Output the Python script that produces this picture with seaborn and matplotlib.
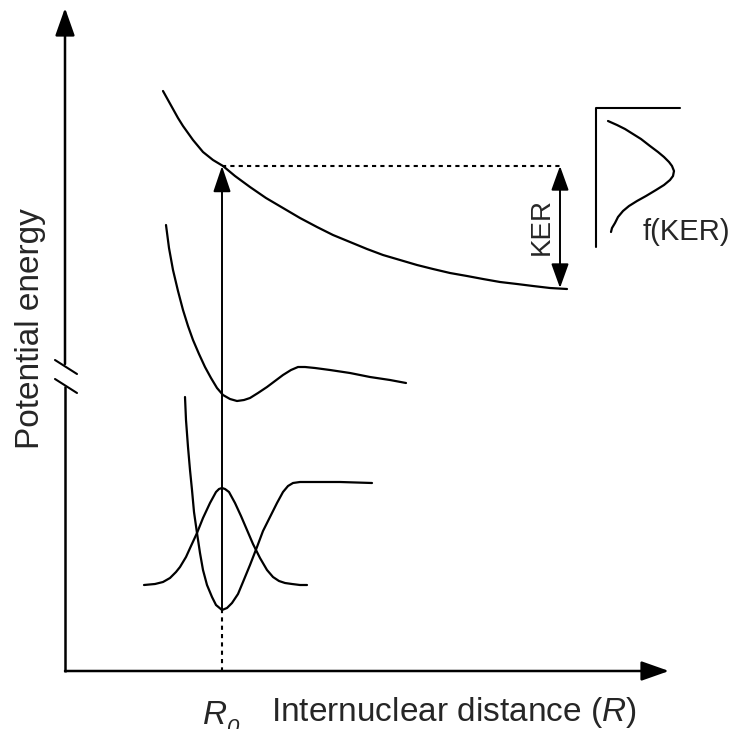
import matplotlib
matplotlib.use("Agg")
import matplotlib.pyplot as plt
import numpy as np
import pandas as pd
import seaborn as sns

sns.set_theme(style="white")
plt.rcParams["font.family"] = ["Liberation Sans", "DejaVu Sans"]
plt.rcParams["mathtext.fontset"] = "custom"
plt.rcParams["mathtext.rm"] = "Liberation Sans"
plt.rcParams["mathtext.it"] = "Liberation Sans:italic"

# Schematic potential-energy curves (x = internuclear distance, y = energy,
# both in drawing units, y grows downwards)
repulsive_x = [163, 168, 173, 178, 183, 188, 193, 198, 203, 208, 213, 218, 223, 235, 250,
               266, 283, 300, 317, 333, 350, 367, 383, 400, 417, 433, 450, 467, 483, 500,
               517, 533, 550, 567]
repulsive_y = [91, 100, 109, 118, 126, 133, 140, 146, 152, 156, 160, 163, 166, 176, 187,
               198, 208, 218, 227, 235, 242, 249, 255, 260, 265, 269, 273, 276, 279, 282,
               284, 286, 288, 289]

excited_x = [166, 169, 173, 178, 183, 188, 193, 199, 205, 211, 217, 223, 230, 237,
             244, 250, 258, 267, 275, 283, 291, 298, 305, 315, 330, 350, 370, 390, 406]
excited_y = [225, 248, 270, 291, 310, 326, 340, 354, 367, 378, 388, 395, 399, 401,
             400, 398, 393, 387, 381, 375, 370, 367, 367, 368, 370, 373, 377, 380, 383]

ground_x = [185, 186, 188, 190, 192, 194, 197, 200, 203, 207, 212, 216, 222, 227, 232,
            238, 243, 250, 257, 263, 270, 277, 283, 288, 293, 300, 313, 340, 372]
ground_y = [397, 420, 447, 470, 490, 512, 533, 553, 570, 585, 597, 605, 610, 608, 603,
            594, 582, 565, 547, 531, 517, 503, 492, 486, 483, 482, 482, 482, 483]

wave_x = [144, 155, 163, 170, 176, 180, 186, 191, 197, 203, 210, 216, 219, 222, 225,
          229, 235, 241, 247, 253, 260, 267, 273, 279, 285, 292, 300, 307]
wave_y = [585, 584, 582, 578, 572, 567, 557, 546, 533, 518, 503, 492, 489, 488, 489,
          492, 503, 516, 530, 544, 558, 570, 577, 581, 583, 584, 585, 585]

# Kinetic-energy-release distribution sketched next to the KER span
fker_x = [608, 617, 625, 633, 641, 650, 658, 664, 669, 672, 674, 673, 670, 664,
          656, 646, 637, 629, 623, 618, 615, 612, 611]
fker_y = [121, 125, 129, 134, 139, 146, 152, 157, 162, 166, 171, 176, 180, 185,
          190, 196, 201, 206, 211, 217, 223, 228, 232]

R0_x = 222
excite_top_y = 166
excite_bottom_y = 609
axis_origin = (65, 671)
axis_x_end = 669
axis_y_end = 8
ker_x = 560
ker_top_y = 166
ker_bottom_y = 288

fig = plt.figure(figsize=(7.33, 7.29), dpi=100)
ax = fig.add_axes([0, 0, 1, 1])
ax.set_xlim(0, 733)
ax.set_ylim(729, 0)
ax.axis("off")

curve_kw = dict(color="black", linewidth=1.6, sort=False, estimator=None, legend=False, ax=ax)
for xs, ys in [(repulsive_x, repulsive_y), (excited_x, excited_y),
               (ground_x, ground_y), (wave_x, wave_y), (fker_x, fker_y)]:
    df = pd.DataFrame({"R": xs, "E": ys})
    sns.lineplot(data=df, x="R", y="E", **curve_kw)
ax.set_xlabel("")
ax.set_ylabel("")

# Axes with arrowheads
x0, y0 = axis_origin
axis_kw = dict(arrowstyle="-|>,head_length=0.85,head_width=0.3",
               color="black", lw=1.8, mutation_scale=20, shrinkA=0, shrinkB=0)
ax.annotate("", xy=(axis_x_end, y0), xytext=(x0, y0), arrowprops=axis_kw)
# y-axis drawn in two pieces around the break marks
ax.plot([x0, x0], [y0 + 1, 386], color="black", lw=1.8, solid_capstyle="butt")
ax.annotate("", xy=(x0, axis_y_end), xytext=(x0, 364), arrowprops=axis_kw)
for yb in (367, 386):
    ax.plot([55, 77], [yb - 7, yb + 7], color="black", lw=1.5)

# Vertical excitation arrow at R0
arrow_kw = dict(arrowstyle="-|>,head_length=0.8,head_width=0.27",
                color="black", lw=1.4, mutation_scale=20, shrinkA=0, shrinkB=0)
ax.annotate("", xy=(R0_x, excite_top_y), xytext=(R0_x, excite_bottom_y), arrowprops=arrow_kw)
ax.plot([R0_x, R0_x], [excite_bottom_y, y0], color="black", lw=1.5,
        linestyle=(0, (2, 2)))

# Dotted level and KER double arrow
ax.plot([R0_x, ker_x + 3], [excite_top_y, excite_top_y], color="black", lw=1.5,
        linestyle=(0, (2, 2)))
ker_kw = dict(arrowstyle="<|-|>,head_length=0.75,head_width=0.27",
              color="black", lw=1.4, mutation_scale=20, shrinkA=0, shrinkB=0)
ax.annotate("", xy=(ker_x, ker_top_y), xytext=(ker_x, ker_bottom_y), arrowprops=ker_kw)
ax.text(542, 226, "KER", rotation=90, ha="center", va="center", fontsize=20)

# f(KER) frame
ax.plot([596, 596, 680], [247, 108, 108], color="black", lw=1.5)
ax.text(643, 232, "f(KER)", ha="left", va="center", fontsize=21)

# Labels
ax.text(31, 329, "Potential energy", rotation=90, ha="center", va="center", fontsize=24)
ax.text(454, 713, "Internuclear distance ($R$)", ha="center", va="center", fontsize=24)
ax.text(203, 724, "R", ha="left", va="baseline", fontsize=24, style="italic")
ax.text(226, 734, "0", ha="left", va="baseline", fontsize=16, style="italic")

fig.savefig("out.png", dpi=100)
